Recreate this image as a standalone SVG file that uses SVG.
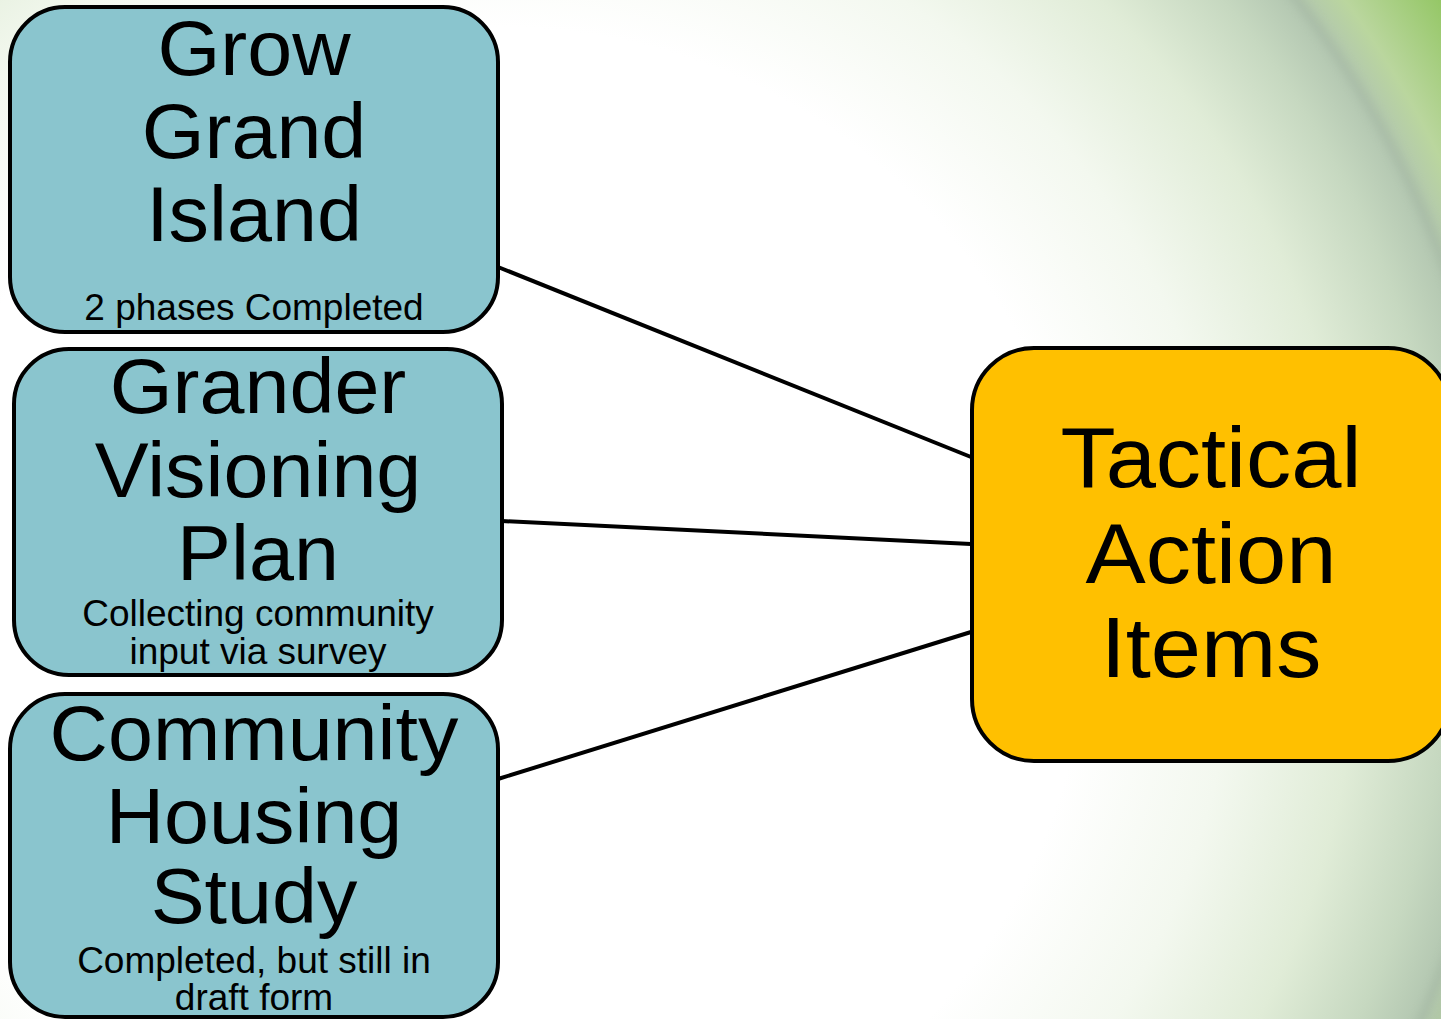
<svg xmlns="http://www.w3.org/2000/svg" width="1441" height="1019" viewBox="0 0 1441 1019">
<defs>
<radialGradient id="bg" gradientUnits="userSpaceOnUse" cx="500" cy="615" r="1130">
<stop offset="0" stop-color="#ffffff"/>
<stop offset="0.52" stop-color="#ffffff"/>
<stop offset="0.65" stop-color="#f3f8ef"/>
<stop offset="0.76" stop-color="#e0ecd7"/>
<stop offset="0.84" stop-color="#c6d8c0"/>
<stop offset="0.89" stop-color="#b2c6b0"/>
<stop offset="0.925" stop-color="#bad69e"/>
<stop offset="1" stop-color="#92c662"/>
</radialGradient>
<filter id="blur"><feGaussianBlur stdDeviation="4"/></filter>
<style>
.box{fill:#8ac5ce;stroke:#000;stroke-width:4}
.hub{fill:#ffc000;stroke:#000;stroke-width:4}
.big{font-family:"Liberation Sans",Arial,sans-serif;font-size:77px;fill:#000;text-anchor:middle}
.hubt{font-family:"Liberation Sans",Arial,sans-serif;font-size:86px;fill:#000;text-anchor:middle}
.small{font-family:"Liberation Sans",Arial,sans-serif;font-size:37px;fill:#000;text-anchor:middle}
.conn{stroke:#000;stroke-width:4;fill:none}
</style>
</defs>
<rect x="0" y="0" width="1441" height="1019" fill="url(#bg)"/>
<g opacity="0.3" filter="url(#blur)" fill="none" stroke="#98aa96">
<circle cx="500" cy="615" r="1007" stroke-width="10"/>
<circle cx="480" cy="630" r="1035" stroke-width="5"/>
</g>
<g id="connectors">
<line class="conn" x1="498" y1="267" x2="971" y2="457"/>
<line class="conn" x1="502" y1="521" x2="971" y2="544"/>
<line class="conn" x1="498" y1="779" x2="971" y2="632"/>
</g>
<g id="node-grow">
<rect class="box" x="10" y="7" width="488" height="325" rx="55"/>
<g transform="translate(254 0) scale(1.05 1)">
<text class="big" x="0" y="75">Grow</text>
<text class="big" x="0" y="158">Grand</text>
<text class="big" x="0" y="241">Island</text>
</g>
<text class="small" x="254" y="320">2 phases Completed</text>
</g>
<g id="node-grander">
<rect class="box" x="14" y="349" width="488" height="326" rx="55"/>
<g transform="translate(258 0) scale(1.05 1)">
<text class="big" x="0" y="413">Grander</text>
<text class="big" x="0" y="497">Visioning</text>
<text class="big" x="0" y="580">Plan</text>
</g>
<text class="small" x="258" y="626">Collecting community</text>
<text class="small" x="258" y="664">input via survey</text>
</g>
<g id="node-housing">
<rect class="box" x="10" y="694" width="488" height="323" rx="55"/>
<g transform="translate(254 0) scale(1.05 1)">
<text class="big" x="0" y="760">Community</text>
<text class="big" x="0" y="843">Housing</text>
<text class="big" x="0" y="923">Study</text>
</g>
<text class="small" x="254" y="973">Completed, but still in</text>
<text class="small" x="254" y="1010">draft form</text>
</g>
<g id="node-tactical">
<rect class="hub" x="972" y="348" width="478" height="413" rx="62"/>
<g transform="translate(1211 0) scale(1.05 1)">
<text class="hubt" x="0" y="487">Tactical</text>
<text class="hubt" x="0" y="583">Action</text>
<text class="hubt" x="0" y="677">Items</text>
</g>
</g>
</svg>
